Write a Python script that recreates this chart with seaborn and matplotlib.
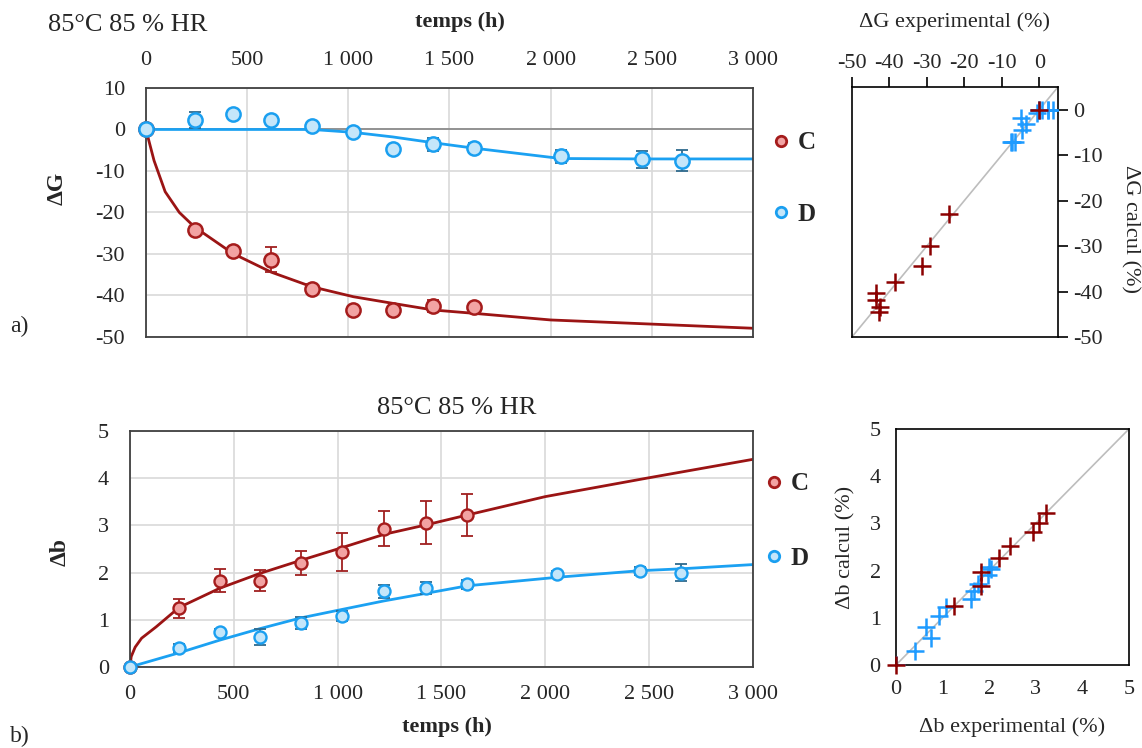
import matplotlib
matplotlib.use("Agg")
import matplotlib.pyplot as plt
import seaborn as sns
from matplotlib.ticker import FuncFormatter, MultipleLocator
from matplotlib.lines import Line2D

# ---------------- data ----------------
# Delta G (%) at 85 degC 85 % HR
t_G_C = [0, 240, 430, 620, 820, 1025, 1220, 1420, 1620]
G_C_exp = [0, -24.2, -29.2, -31.4, -38.5, -43.5, -43.5, -42.5, -42.8]
G_C_err = [0, 0.6, 1.0, 3.0, 1.2, 0.5, 0.5, 1.5, 0.6]
G_C_calc = [0, -23.0, -29.9, -34.4, -37.9, -40.3, -41.9, -43.5, -44.5]
t_G_C_curve = [0, 40, 95, 165, 240, 430, 620, 820, 1025, 1220, 1420, 1620, 2000, 2500, 3000]
G_C_curve = [0, -7.5, -15.0, -20.0, -23.5, -29.9, -34.4, -37.9, -40.3, -41.9, -43.5, -44.3, -45.9, -46.9, -47.9]

t_G_D = [0, 240, 430, 620, 820, 1025, 1220, 1420, 1620, 2050, 2450, 2650]
G_D_exp = [0, 2.3, 3.7, 2.3, 0.8, -0.7, -4.8, -3.6, -4.5, -6.5, -7.2, -7.5]
G_D_err = [0, 2.0, 0.3, 0.3, 0.3, 0.4, 1.0, 1.5, 1.2, 1.5, 2.0, 2.5]
G_D_calc = [0, 0, 0, 0, 0, -0.7, -1.8, -3.2, -4.5, -7.0, -7.1, -7.1]
t_G_D_curve = [0, 820, 1025, 1220, 1420, 1620, 2050, 2450, 2650, 3000]
G_D_curve = [0, 0, -0.7, -1.8, -3.2, -4.5, -7.0, -7.1, -7.1, -7.1]

# Delta b (%)
t_b_C = [0, 236, 433, 624, 823, 1022, 1223, 1425, 1624]
b_C_exp = [0, 1.24, 1.83, 1.83, 2.20, 2.44, 2.93, 3.06, 3.22]
b_C_err = [0, 0.20, 0.25, 0.22, 0.25, 0.40, 0.37, 0.46, 0.44]
b_C_calc = [0, 1.24, 1.67, 1.98, 2.26, 2.53, 2.81, 3.01, 3.22]
t_b_C_curve = [0, 6, 25, 56, 126, 236, 433, 624, 823, 1022, 1223, 1425, 1624, 2000, 2500, 3000]
b_C_curve = [0, 0.22, 0.42, 0.61, 0.85, 1.26, 1.67, 1.98, 2.26, 2.53, 2.81, 3.01, 3.22, 3.61, 4.01, 4.40]

t_b_D = [0, 236, 433, 624, 823, 1022, 1223, 1425, 1624, 2056, 2454, 2653]
b_D_exp = [0, 0.40, 0.75, 0.64, 0.93, 1.08, 1.60, 1.68, 1.75, 1.97, 2.03, 2.00]
b_D_err = [0, 0.08, 0.05, 0.17, 0.12, 0.10, 0.13, 0.13, 0.10, 0.07, 0.08, 0.18]
b_D_calc = [0, 0.30, 0.57, 0.81, 1.04, 1.22, 1.40, 1.56, 1.72, 1.90, 2.04, 2.08]
t_b_D_curve = [0, 236, 433, 624, 823, 1022, 1223, 1425, 1624, 2056, 2454, 2653, 3000]
b_D_curve = [0, 0.30, 0.57, 0.81, 1.04, 1.22, 1.40, 1.56, 1.72, 1.90, 2.04, 2.08, 2.17]

series_names = ["C", "D"]
title_text = "85°C 85 % HR"

# ---------------- style ----------------
sns.set_style("white")
plt.rcParams['font.family'] = ['Liberation Serif', 'DejaVu Serif']
plt.rcParams['axes.unicode_minus'] = False

C_line, C_face, C_edge, C_err, C_cross = '#9b1414', '#f2a3a3', '#a51c1c', '#a02020', '#8b0000'
D_line, D_face, D_edge, D_err, D_cross = '#1ba1f2', '#c4e6fa', '#1a9ff0', '#2e6a8e', '#1e9bff'

TICK = 16
fig = plt.figure(figsize=(11.42, 7.48), dpi=100)
axA = fig.add_axes([0.1278, 0.5495, 0.5316, 0.3329])
axA2 = fig.add_axes([0.746, 0.5495, 0.1804, 0.3342])
axB = fig.add_axes([0.1138, 0.1083, 0.5456, 0.3155])
axB2 = fig.add_axes([0.7846, 0.1110, 0.2040, 0.3155])

thousands = FuncFormatter(lambda v, p: f"{int(round(v)):,}".replace(",", " "))


def time_panel(ax, data, msize, mlw):
    for (t, y, e, tc, yc, lc, fc, ec, erc) in data:
        sns.lineplot(x=tc, y=yc, ax=ax, color=lc, lw=2.0, sort=False, estimator=None, zorder=2)
    for (t, y, e, tc, yc, lc, fc, ec, erc) in data:
        ax.errorbar(t[1:], y[1:], yerr=e[1:], fmt='none', ecolor=erc, elinewidth=1.3,
                    capsize=4.5, capthick=1.3, zorder=3)
        sns.scatterplot(x=t, y=y, ax=ax, s=msize, color=fc, edgecolor=ec, linewidth=mlw,
                        zorder=4, clip_on=False)
    ax.set_xlim(0, 3000)
    ax.xaxis.set_major_locator(MultipleLocator(500))
    ax.xaxis.set_major_formatter(thousands)
    ax.grid(True, color='#d9d9d9', lw=1.2)
    ax.set_axisbelow(True)
    for s in ax.spines.values():
        s.set_color('#404040')
        s.set_linewidth(1.3)
    ax.tick_params(length=0, labelsize=TICK)


def legend(ax, x, y, spacing):
    handles = [Line2D([], [], marker='o', ls='none', markersize=7.5, markerfacecolor=C_face,
                      markeredgecolor=C_edge, markeredgewidth=2.0),
               Line2D([], [], marker='o', ls='none', markersize=7.5, markerfacecolor=D_face,
                      markeredgecolor=D_edge, markeredgewidth=2.0)]
    ax.legend(handles, series_names, loc='center left', bbox_to_anchor=(x, y), frameon=False,
              prop={'weight': 'bold', 'size': 18}, labelspacing=spacing, handletextpad=0.15,
              handlelength=1.0, borderpad=0, borderaxespad=0)


# ---- panel a) time series ----
time_panel(axA, [
    (t_G_C, G_C_exp, G_C_err, t_G_C_curve, G_C_curve, C_line, C_face, C_edge, C_err),
    (t_G_D, G_D_exp, G_D_err, t_G_D_curve, G_D_curve, D_line, D_face, D_edge, D_err),
], 105, 1.8)
axA.axhline(0, color='#8c8c8c', lw=1.3, zorder=1.5)
axA.set_ylim(-50, 10)
axA.yaxis.set_major_locator(MultipleLocator(10))
axA.xaxis.tick_top()
axA.xaxis.set_label_position('top')
axA.tick_params(axis='x', pad=13)
axA.tick_params(axis='y', pad=15)
axA.set_xlabel('temps (h)', fontsize=16, fontweight='bold', va='center')
axA.xaxis.set_label_coords(0.517, 1.265)
axA.set_ylabel('ΔG', fontsize=17, fontweight='bold', va='center')
axA.yaxis.set_label_coords(-0.147, 0.598)
legend(axA, 1.0255, 0.635, 1.95)

# ---- panel a) parity ----
CROSS = 160
CLW = 1.8
sns.scatterplot(x=G_C_exp, y=G_C_calc, ax=axA2, marker='+', s=CROSS, color=C_cross, linewidth=CLW, zorder=3)
sns.scatterplot(x=G_D_exp, y=G_D_calc, ax=axA2, marker='+', s=CROSS, color=D_cross, linewidth=CLW, zorder=3)
sns.scatterplot(x=G_C_exp[:1], y=G_C_calc[:1], ax=axA2, marker='+', s=CROSS, color=C_cross, linewidth=CLW, zorder=4)
axA2.axline((0, 0), slope=1, color='#bdbdbd', lw=1.2, zorder=1)
axA2.set_xlim(-50, 5)
axA2.set_ylim(-50, 5)
axA2.set_xticks(range(-50, 1, 10))
axA2.set_yticks(range(-50, 1, 10))
axA2.xaxis.tick_top()
axA2.xaxis.set_label_position('top')
axA2.yaxis.tick_right()
axA2.yaxis.set_label_position('right')
axA2.tick_params(direction='out', length=7, width=1.2, labelsize=TICK, color='black')
axA2.tick_params(axis='x', pad=3)
axA2.tick_params(axis='y', pad=4)
axA2.set_xlabel('ΔG experimental (%)', fontsize=16, va='center')
axA2.xaxis.set_label_coords(0.5, 1.26)
axA2.set_ylabel('ΔG calcul (%)', fontsize=16, rotation=270, va='center')
axA2.yaxis.set_label_coords(1.35, 0.43)
for s in axA2.spines.values():
    s.set_color('black')
    s.set_linewidth(1.2)

# ---- panel b) time series ----
time_panel(axB, [
    (t_b_C, b_C_exp, b_C_err, t_b_C_curve, b_C_curve, C_line, C_face, C_edge, C_err),
    (t_b_D, b_D_exp, b_D_err, t_b_D_curve, b_D_curve, D_line, D_face, D_edge, D_err),
], 75, 1.7)
axB.set_ylim(0, 5)
axB.yaxis.set_major_locator(MultipleLocator(1))
axB.tick_params(axis='x', pad=13)
axB.tick_params(axis='y', pad=15)
axB.set_xlabel('temps (h)', fontsize=16, fontweight='bold', va='center')
axB.xaxis.set_label_coords(0.509, -0.254)
axB.set_ylabel('Δb', fontsize=17, fontweight='bold', va='center')
axB.yaxis.set_label_coords(-0.112, 0.487)
legend(axB, 1.0136, 0.619, 2.05)

# ---- panel b) parity ----
sns.scatterplot(x=b_D_exp, y=b_D_calc, ax=axB2, marker='+', s=CROSS, color=D_cross, linewidth=CLW, zorder=3)
sns.scatterplot(x=b_C_exp, y=b_C_calc, ax=axB2, marker='+', s=CROSS, color=C_cross, linewidth=CLW, zorder=4, clip_on=False)
axB2.axline((0, 0), slope=1, color='#bdbdbd', lw=1.2, zorder=1)
axB2.set_xlim(0, 5)
axB2.set_ylim(0, 5)
axB2.set_xticks(range(0, 6))
axB2.set_yticks(range(0, 6))
axB2.tick_params(direction='out', length=7, width=1.2, labelsize=TICK, color='black')
axB2.tick_params(axis='x', pad=4)
axB2.tick_params(axis='y', pad=4)
axB2.set_xlabel('Δb experimental (%)', fontsize=16, va='center')
axB2.xaxis.set_label_coords(0.5, -0.263)
axB2.set_ylabel('Δb calcul (%)', fontsize=16, va='center')
axB2.yaxis.set_label_coords(-0.215, 0.5)
for s in axB2.spines.values():
    s.set_color('black')
    s.set_linewidth(1.2)

# ---- titles and panel letters ----
fig.text(48 / 1142, 1 - 25 / 748, title_text, fontsize=19, ha='left', va='center')
fig.text(457 / 1142, 1 - 408 / 748, title_text, fontsize=19, ha='center', va='center')
fig.text(10 / 1142, 1 - 326 / 748, 'a)', fontsize=17, ha='left', va='center')
fig.text(10 / 1142, 1 - 736 / 748, 'b)', fontsize=17, ha='left', va='center')

fig.savefig('out.png', dpi=100)
